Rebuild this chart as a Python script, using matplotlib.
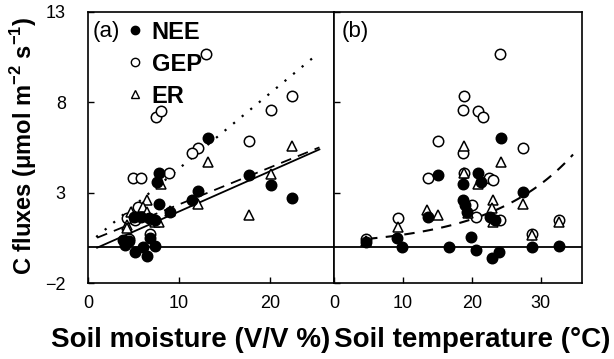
import numpy as np
import matplotlib
matplotlib.use("Agg")
import matplotlib.pyplot as plt
from matplotlib.lines import Line2D

plt.rcParams['font.family'] = ['Liberation Sans', 'DejaVu Sans']
plt.rcParams['mathtext.fontset'] = 'custom'
plt.rcParams['mathtext.rm'] = 'Liberation Sans'
plt.rcParams['mathtext.bf'] = 'Liberation Sans:bold'

# (a) soil moisture (V/V %)
sm_nee_x = [13.2, 17.7, 20.1, 22.4, 12.1, 11.4, 7.8, 7.6, 7.8, 9.0, 5.1, 5.8, 6.7, 7.4,
            3.8, 4.1, 5.2, 6.5, 6.8, 7.3, 6.0, 4.5]
sm_nee_y = [6.0, 3.98, 3.43, 2.7, 3.1, 2.6, 4.1, 3.6, 2.4, 1.95, 1.66, 1.66, 1.6, 1.5,
            0.39, 0.1, -0.28, -0.5, 0.5, 0.05, 0.0, 0.3]
sm_gep_x = [13.0, 22.4, 20.1, 7.5, 8.0, 17.7, 12.1, 11.4, 4.9, 5.8, 8.9, 4.3, 5.2,
            4.5, 6.8, 5.5, 7.0]
sm_gep_y = [10.7, 8.36, 7.6, 7.2, 7.5, 5.87, 5.5, 5.2, 3.8, 3.8, 4.1, 1.6, 1.5,
            0.45, 0.7, 2.2, 1.5]
sm_er_x = [13.2, 22.4, 20.1, 17.7, 12.1, 8.0, 6.5, 9.0, 4.7, 6.0, 6.5, 7.4, 4.3, 7.8, 4.3]
sm_er_y = [4.7, 5.6, 4.04, 1.77, 2.4, 3.5, 2.6, 2.0, 1.94, 2.2, 1.94, 1.4, 1.2, 1.4, 1.05]

# (b) soil temperature (°C)
st_nee_x = [24.2, 15.1, 20.9, 18.7, 21.3, 27.4, 18.7, 19.0, 19.3, 22.6, 23.4, 13.6,
            9.1, 9.9, 4.6, 16.7, 19.9, 20.6, 22.9, 23.9, 28.7, 32.7]
st_nee_y = [6.0, 4.0, 4.1, 3.5, 3.6, 3.05, 2.6, 2.3, 1.94, 1.66, 1.5, 1.66,
            0.5, 0.0, 0.28, 0.0, 0.55, -0.17, -0.6, -0.28, 0.0, 0.05]
st_gep_x = [24.1, 18.9, 18.7, 20.9, 21.6, 15.1, 27.4, 18.7, 13.6, 18.9, 22.5, 23.1,
            20.0, 20.6, 24.1, 9.3, 4.6, 28.7, 32.7]
st_gep_y = [10.7, 8.36, 7.6, 7.5, 7.2, 5.87, 5.5, 5.2, 3.8, 4.1, 3.8, 3.7,
            2.3, 1.66, 1.5, 1.6, 0.44, 0.7, 1.5]
st_er_x = [18.9, 24.2, 18.9, 20.9, 27.4, 23.1, 22.9, 23.1, 13.5, 15.1, 9.3, 28.7, 32.7, 4.6, 19.5]
st_er_y = [5.6, 4.7, 4.1, 3.5, 2.4, 2.6, 2.15, 1.4, 2.05, 1.77, 1.1, 0.66, 1.4, 0.3, 1.9]

# fitted lines, panel (a): y = slope * x + intercept
fit_nee = (0.223, -0.27)
fit_er = (0.205, 0.30)
fit_gep = (0.417, 0.17)
# fitted curve, panel (b): y = a * exp(b * x)
fit_exp = (0.297, 0.082)

fig = plt.figure(figsize=(6.14, 3.59), dpi=100)
ax1 = fig.add_axes([88/614, 76/359, 246/614, 271/359])
ax2 = fig.add_axes([334/614, 76/359, 248/614, 271/359])

for ax in (ax1, ax2):
    ax.set_ylim(-2, 13)
    ax.set_yticks([-2, 3, 8, 13])
    ax.tick_params(direction='in', length=4, width=1, labelsize=13)
    ax.tick_params(axis='x', pad=9)
    ax.tick_params(axis='y', pad=16)
    ax.axhline(0, color='black', lw=1.3, zorder=1)
    for s in ax.spines.values():
        s.set_linewidth(1.2)

ax1.set_xlim(0, 27)
ax1.set_xticks([0, 10, 20])
ax1.set_yticklabels(['\u22122', '3', '8', '13'])
ax2.set_xlim(0, 36)
ax2.set_xticks([0, 10, 20, 30])
ax2.tick_params(labelleft=False)

ms = 7.5
mew = 1.1

def draw_points(ax, gx, gy, ex, ey, nx, ny):
    ax.plot(gx, gy, 'o', ms=ms, mfc='white', mec='black', mew=mew, ls='none', zorder=3)
    ax.plot(ex, ey, '^', ms=ms, mfc='white', mec='black', mew=mew, ls='none', zorder=4)
    ax.plot(nx, ny, 'o', ms=ms, mfc='black', mec='black', mew=mew, ls='none', zorder=5)

draw_points(ax1, sm_gep_x, sm_gep_y, sm_er_x, sm_er_y, sm_nee_x, sm_nee_y)
draw_points(ax2, st_gep_x, st_gep_y, st_er_x, st_er_y, st_nee_x, st_nee_y)

xa = np.linspace(1.0, 25.4, 50)
ax1.plot(xa, fit_nee[0] * xa + fit_nee[1], color='black', lw=1.3, zorder=2)
ax1.plot(xa, fit_er[0] * xa + fit_er[1], color='black', lw=1.3, ls=(0, (6, 4)), zorder=2)
xg = np.linspace(0.9, 25.0, 50)
ax1.plot(xg, fit_gep[0] * xg + fit_gep[1], color='black', lw=1.6, ls=(0, (1, 4)), zorder=2)

xb = np.linspace(4.8, 34.7, 100)
ax2.plot(xb, fit_exp[0] * np.exp(fit_exp[1] * xb), color='black', lw=1.5,
         ls=(0, (5, 4)), zorder=2)

# plotting may rescale, so pin the limits again
ax1.set_xlim(0, 27)
ax2.set_xlim(0, 36)
ax1.set_ylim(-2, 13)
ax2.set_ylim(-2, 13)

ax1.text(0.02, 0.965, '(a)', transform=ax1.transAxes, fontsize=16, va='top', ha='left')
ax2.text(0.03, 0.965, '(b)', transform=ax2.transAxes, fontsize=16, va='top', ha='left')

handles = [
    Line2D([], [], marker='o', ls='none', ms=6, mfc='black', mec='black'),
    Line2D([], [], marker='o', ls='none', ms=6, mfc='white', mec='black', mew=1),
    Line2D([], [], marker='^', ls='none', ms=6, mfc='white', mec='black', mew=1),
]
ax1.legend(handles, ['NEE', 'GEP', 'ER'], loc='upper left', bbox_to_anchor=(0.105, 1.02),
           frameon=False, prop={'weight': 'bold', 'size': 17}, handlelength=0.6,
           handletextpad=0.4, labelspacing=0.38, borderaxespad=0.2)

fig.text(191/614, 1 - 340/359, 'Soil moisture (V/V %)', fontsize=20, fontweight='bold',
         ha='center', va='center')
fig.text(472/614, 1 - 340/359, 'Soil temperature (\u00b0C)', fontsize=20, fontweight='bold',
         ha='center', va='center')
fig.text(24/614, 1 - 146/359, r'C fluxes (μmol m$^{\mathbf{-2}}$ s$^{\mathbf{-1}}$)',
         fontsize=17, fontweight='bold', rotation=90, ha='center', va='center')

fig.savefig('out.png', dpi=100)
